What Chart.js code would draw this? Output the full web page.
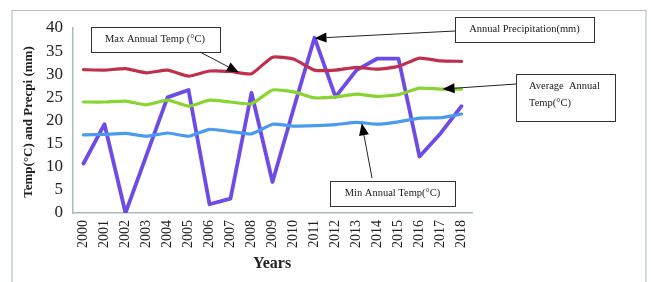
<!DOCTYPE html>
<html><head><meta charset="utf-8">
<script src="https://cdn.jsdelivr.net/npm/chart.js@4.4.0/dist/chart.umd.min.js"></script>
<style>html,body{margin:0;padding:0;background:#fff;}#wrap{width:651px;height:282px;position:relative;}</style>
</head><body><div id="wrap"><canvas id="c" width="651" height="282"></canvas></div>
<script>
const years = ["2000","2001","2002","2003","2004","2005","2006","2007","2008","2009","2010","2011","2012","2013","2014","2015","2016","2017","2018"];
const maxTemp = [31.0,30.9,31.2,30.3,30.9,29.6,30.7,30.6,30.1,33.7,33.3,30.9,30.9,31.5,31.1,31.7,33.5,32.9,32.8];
const avgTemp = [24.0,24.0,24.2,23.4,24.4,23.1,24.4,24.0,23.6,26.6,26.2,24.9,25.1,25.7,25.2,25.6,27.0,26.8,26.8];
const minTemp = [16.9,17.0,17.2,16.6,17.3,16.6,18.1,17.6,17.1,19.2,18.8,18.9,19.1,19.6,19.2,19.7,20.5,20.6,21.4];
const precip  = [10.7,19.2,0.0,12.5,25.0,26.6,1.9,3.1,26.0,6.7,22.5,37.9,25.1,30.9,33.4,33.4,12.2,17.2,23.1];
const yTicks = [0,5,10,15,20,25,30,35,40];

const serif = "'Liberation Serif','Times New Roman',serif";

function arrow(ctx, x1, y1, x2, y2) {
  ctx.save();
  ctx.strokeStyle = '#222'; ctx.fillStyle = '#000'; ctx.lineWidth = 1;
  const a = Math.atan2(y2 - y1, x2 - x1);
  const L = 12, W = 5;
  const bx = x2 - L * Math.cos(a), by = y2 - L * Math.sin(a);
  ctx.beginPath(); ctx.moveTo(x1, y1); ctx.lineTo(bx, by); ctx.stroke();
  ctx.beginPath();
  ctx.moveTo(x2, y2);
  ctx.lineTo(bx + W * Math.sin(a), by - W * Math.cos(a));
  ctx.lineTo(bx - W * Math.sin(a), by + W * Math.cos(a));
  ctx.closePath(); ctx.fill();
  ctx.restore();
}
function box(ctx, x, y, w, h) {
  ctx.save();
  ctx.fillStyle = '#fff'; ctx.fillRect(x, y, w, h);
  ctx.strokeStyle = '#333'; ctx.lineWidth = 1;
  ctx.strokeRect(x + 0.5, y + 0.5, w, h);
  ctx.restore();
}

const deco = {
  id: 'deco',
  beforeDraw(chart) {
    const ctx = chart.ctx;
    ctx.save();
    ctx.strokeStyle = '#b4c2c4'; ctx.lineWidth = 1.2;
    ctx.beginPath();
    ctx.moveTo(12, 290); ctx.lineTo(12, 10.5); ctx.lineTo(646, 10.5); ctx.lineTo(646, 290);
    ctx.stroke();
    ctx.restore();
  },
  afterDraw(chart) {
    const ctx = chart.ctx;
    const xs = chart.scales.x, ys = chart.scales.y;
    ctx.save();
    ctx.fillStyle = '#222';
    ctx.font = "bold 13px " + serif;
    ctx.textAlign = 'center'; ctx.textBaseline = 'middle';
    ctx.save(); ctx.translate(29, 122); ctx.rotate(-Math.PI / 2);
    ctx.fillText('Temp(°C) and Precpi (mm)', 0, 0); ctx.restore();
    ctx.font = "bold 16px " + serif;
    ctx.fillText('Years', 272, 264);

    ctx.font = "10.5px " + serif;
    box(ctx, 91, 27, 129, 25);
    ctx.fillStyle = '#1a1a1a'; ctx.textAlign = 'center';
    ctx.fillText('Max Annual Temp (°C)', 155, 39.5);
    arrow(ctx, 200, 52, xs.getPixelForValue(7.4), ys.getPixelForValue(30.4));
    box(ctx, 455, 17, 139, 25);
    ctx.fillStyle = '#1a1a1a';
    ctx.fillText('Annual Precipitation(mm)', 524.5, 29.5);
    arrow(ctx, 455, 31, xs.getPixelForValue(11), ys.getPixelForValue(37.8));
    box(ctx, 516, 74, 99, 47);
    ctx.fillStyle = '#1a1a1a'; ctx.textAlign = 'left';
    ctx.fillText('Average  Annual', 529, 86);
    ctx.fillText('Temp(°C)', 529, 103);
    arrow(ctx, 516, 84, xs.getPixelForValue(17.1), ys.getPixelForValue(26.8));
    box(ctx, 330, 181, 125, 25);
    ctx.fillStyle = '#1a1a1a'; ctx.textAlign = 'center';
    ctx.fillText('Min Annual Temp(°C)', 392.5, 193.5);
    arrow(ctx, 372, 178, xs.getPixelForValue(13.25), ys.getPixelForValue(19.6) + 1);
    ctx.restore();
  }
};

const ds = (label, data, color, w) => ({
  label, data, borderColor: color, backgroundColor: color,
  borderWidth: w, pointRadius: 0, tension: 0.15, fill: false,
  borderCapStyle: 'round', borderJoinStyle: 'round'
});

new Chart(document.getElementById('c'), {
  type: 'line',
  data: {
    labels: years,
    datasets: [
      ds('Max Annual Temp (°C)', maxTemp, '#c0304a', 3.2),
      ds('Average Annual Temp(°C)', avgTemp, '#88d430', 3.2),
      ds('Min Annual Temp(°C)', minTemp, '#4a9bf0', 3.2),
      Object.assign(ds('Annual Precipitation(mm)', precip, '#6e4be6', 3.8), {tension: 0})
    ]
  },
  options: {
    responsive: false, animation: false,
    devicePixelRatio: 1,
    layout: { padding: { left: 0, top: 28, right: 179, bottom: 0 } },
    plugins: { legend: { display: false }, tooltip: { enabled: false } },
    scales: {
      x: {
        offset: true,
        grid: { display: false, drawTicks: false },
        border: { display: true, color: '#a9bcbc', width: 1.5 },
        ticks: { color: '#222', font: { family: serif, size: 14 }, minRotation: 90, maxRotation: 90, padding: 7, autoSkip: false },
        afterFit: s => { s.height = 69; }
      },
      y: {
        min: 0, max: 40,
        afterBuildTicks: s => { s.ticks = yTicks.map(v => ({ value: v })); },
        grid: { display: false, drawTicks: false },
        border: { display: true, color: '#a9bcbc', width: 1.5 },
        ticks: { color: '#222', font: { family: serif, size: 17 }, padding: 10, autoSkip: false },
        afterFit: s => { s.width = 73; }
      }
    }
  },
  plugins: [deco]
});
</script></body></html>
